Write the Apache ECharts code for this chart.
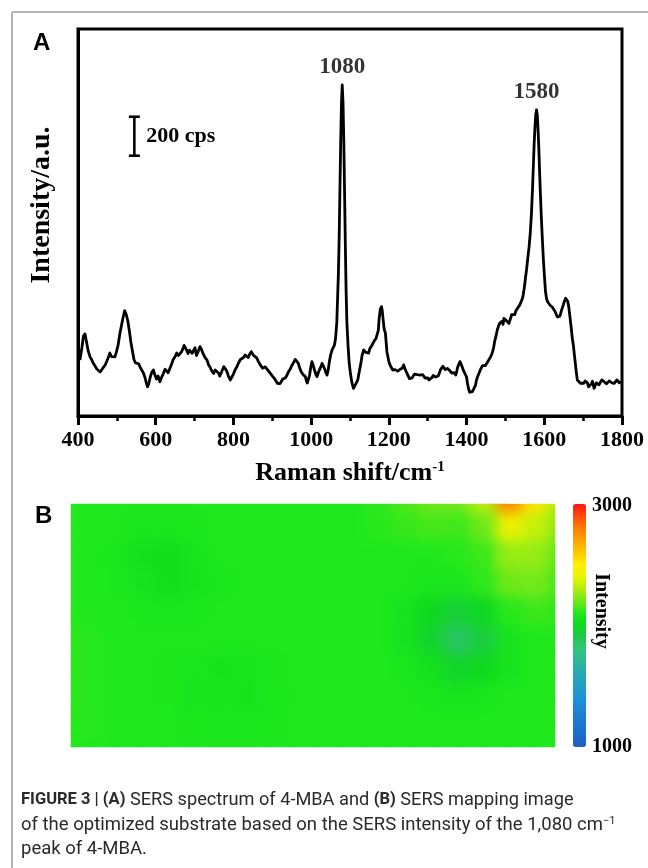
<!DOCTYPE html>
<html>
<head>
<meta charset="utf-8">
<script src="https://cdn.jsdelivr.net/npm/echarts/dist/echarts.min.js"></script>
<style>
  html, body { margin: 0; padding: 0; background: #fff; }
  #chart { position: absolute; left: 0; top: 0; width: 648px; height: 868px; }
  #mapClip { position: absolute; left: 71px; top: 504px; width: 484px; height: 243px; overflow: hidden; }
  #mapSmooth { position: absolute; left: -20px; top: -20px; width: 524px; height: 283px; filter: blur(7px); }
</style>
</head>
<body>
<div id="chart"></div>
<div id="mapClip"><div id="mapSmooth"></div></div>
<script>
// ---- Panel A: SERS spectrum of 4-MBA (Raman shift in cm-1, intensity in cps) ----
const ramanShift = [
  405, 410, 414, 418, 422, 426, 431, 435, 439, 444,
  449, 453, 457, 462, 466, 470, 474, 478, 482, 486,
  490, 495, 499, 503, 508, 512, 516, 520, 524, 528,
  532, 536, 540, 544, 548, 552, 556, 560, 564, 568,
  572, 576, 579, 582, 586, 590, 594, 598, 602, 606,
  611, 615, 619, 624, 628, 632, 636, 640, 645, 650,
  654, 658, 662, 666, 669, 673, 676, 680, 683, 687,
  690, 694, 697, 701, 705, 709, 714, 718, 722, 727,
  732, 736, 740, 744, 749, 753, 757, 761, 765, 770,
  775, 779, 783, 787, 792, 796, 800, 805, 809, 813,
  818, 822, 826, 830, 834, 838, 842, 846, 851, 856,
  860, 864, 868, 871, 875, 878, 882, 886, 890, 895,
  899, 903, 907, 910, 913, 916, 920, 923, 927, 930,
  934, 938, 942, 946, 950, 955, 959, 963, 967, 970,
  974, 978, 982, 985, 988, 990, 993, 996, 999, 1002,
  1005, 1008, 1012, 1015, 1018, 1021, 1025, 1028, 1031, 1034,
  1038, 1041, 1044, 1047, 1050, 1054, 1057, 1060, 1063, 1066,
  1068, 1070, 1072, 1074, 1076, 1078, 1080, 1082, 1084, 1086,
  1088, 1090, 1092, 1095, 1098, 1101, 1105, 1109, 1113, 1117,
  1120, 1124, 1128, 1131, 1135, 1138, 1141, 1145, 1148, 1151,
  1154, 1158, 1161, 1164, 1167, 1170, 1173, 1175, 1178, 1181,
  1183, 1185, 1188, 1191, 1193, 1195, 1198, 1200, 1203, 1206,
  1210, 1213, 1216, 1220, 1223, 1226, 1229, 1232, 1235, 1238,
  1241, 1244, 1247, 1250, 1253, 1256, 1260, 1263, 1266, 1270,
  1273, 1277, 1280, 1284, 1287, 1290, 1293, 1296, 1300, 1303,
  1306, 1310, 1314, 1317, 1320, 1324, 1327, 1330, 1333, 1336,
  1339, 1342, 1345, 1348, 1351, 1354, 1357, 1359, 1362, 1365,
  1368, 1372, 1375, 1377, 1380, 1383, 1386, 1389, 1391, 1394,
  1397, 1400, 1402, 1405, 1408, 1410, 1413, 1415, 1418, 1420,
  1423, 1425, 1428, 1432, 1435, 1438, 1441, 1445, 1448, 1452,
  1455, 1458, 1462, 1465, 1467, 1470, 1472, 1476, 1479, 1482,
  1485, 1488, 1491, 1494, 1496, 1499, 1502, 1505, 1509, 1512,
  1514, 1516, 1518, 1521, 1524, 1527, 1531, 1534, 1537, 1540,
  1544, 1546, 1548, 1550, 1552, 1554, 1556, 1558, 1561, 1564,
  1567, 1570, 1572, 1574, 1576, 1578, 1580, 1582, 1584, 1586,
  1588, 1590, 1592, 1594, 1596, 1598, 1601, 1603, 1606, 1609,
  1612, 1615, 1618, 1621, 1625, 1628, 1631, 1634, 1638, 1640,
  1642, 1644, 1646, 1649, 1652, 1655, 1658, 1660, 1663, 1666,
  1668, 1670, 1672, 1675, 1677, 1679, 1681, 1683, 1685, 1688,
  1690, 1693, 1695, 1698, 1702, 1705, 1708, 1711, 1714, 1717,
  1721, 1724, 1728, 1731, 1734, 1737, 1741, 1744, 1748, 1751,
  1754, 1757, 1760, 1764, 1767, 1771, 1774, 1777, 1780, 1784,
  1787, 1790, 1793, 1796, 1798
];
const intensity = [
  287, 350, 410, 421, 380, 335, 303, 290, 272, 265,
  240, 232, 226, 240, 248, 262, 272, 300, 323, 305,
  298, 303, 330, 362, 426, 465, 505, 540, 522, 490,
  440, 380, 335, 290, 272, 262, 268, 250, 246, 222,
  200, 168, 150, 165, 200, 225, 236, 210, 190, 205,
  176, 198, 215, 240, 236, 222, 228, 262, 290, 305,
  323, 310, 300, 328, 340, 362, 354, 336, 320, 338,
  345, 322, 330, 350, 310, 330, 356, 340, 320, 300,
  287, 262, 250, 232, 219, 236, 240, 222, 205, 228,
  253, 242, 230, 205, 185, 200, 215, 240, 253, 272,
  290, 296, 300, 313, 305, 300, 318, 330, 312, 322,
  298, 280, 266, 260, 245, 236, 252, 250, 232, 219,
  208, 200, 188, 180, 168, 159, 166, 175, 190, 200,
  196, 210, 228, 240, 258, 275, 290, 296, 270, 250,
  228, 215, 210, 202, 180, 169, 188, 210, 250, 279,
  262, 240, 215, 202, 220, 235, 252, 270, 258, 245,
  222, 210, 238, 280, 312, 339, 352, 364, 400, 480,
  600, 720, 900, 1150, 1400, 1600, 1698, 1610, 1420, 1150,
  880, 640, 480, 360, 270, 220, 170, 142, 150, 172,
  185, 230, 270, 310, 339, 335, 326, 318, 323, 345,
  352, 368, 381, 390, 398, 407, 440, 500, 548, 561,
  540, 500, 445, 426, 380, 330, 300, 279, 262, 250,
  236, 227, 238, 240, 230, 225, 240, 250, 246, 262,
  245, 230, 220, 205, 192, 185, 196, 200, 215, 225,
  212, 219, 210, 200, 212, 205, 195, 190, 196, 185,
  193, 195, 208, 205, 200, 193, 205, 220, 238, 245,
  255, 253, 238, 230, 244, 240, 232, 227, 220, 215,
  222, 210, 232, 250, 266, 279, 265, 250, 238, 225,
  215, 200, 172, 140, 122, 116, 128, 125, 130, 133,
  158, 180, 200, 219, 235, 245, 258, 262, 258, 265,
  280, 290, 304, 318, 330, 355, 380, 412, 441, 460,
  475, 480, 485, 470, 501, 498, 490, 482, 475, 494,
  505, 520, 527, 518, 520, 540, 552, 560, 570, 585,
  604, 625, 650, 680, 715, 745, 780, 817, 870, 940,
  1040, 1180, 1290, 1400, 1480, 1545, 1570, 1545, 1470, 1370,
  1250, 1140, 1040, 950, 869, 790, 700, 640, 600, 585,
  578, 568, 560, 558, 552, 535, 520, 508, 501, 512,
  525, 540, 552, 570, 590, 604, 604, 590, 560, 510,
  475, 440, 400, 360, 322, 285, 250, 215, 185, 178,
  175, 168, 160, 175, 168, 180, 190, 170, 150, 158,
  165, 178, 142, 155, 170, 165, 160, 172, 185, 180,
  176, 168, 165, 175, 180, 172, 170, 162, 168, 178,
  185, 175, 170, 180, 176
];
const shiftTicks = [400, 1800, 200];      // min, max, step of the Raman shift axis
const intensityAxis = [0, 1985];          // plotted intensity window (cps)
const peakShifts = [1080, 1580];          // annotated bands
const scaleBarCps = 200;                  // height of the intensity scale bar

// ---- Panel B: SERS mapping of the 1,080 cm-1 band intensity (rows top -> bottom) ----
const mapRows = [
  [2110,2100,2100,2100,2100,2100,2100,2100,2100,2100,2100,2100,2120,2160,2200,2210,2320,2800,2520,2300],
  [2110,2100,2100,2080,2080,2095,2100,2100,2100,2100,2100,2100,2110,2130,2150,2140,2200,2420,2340,2240],
  [2110,2100,2090,2050,2040,2070,2100,2100,2100,2100,2100,2100,2100,2100,2100,2110,2140,2260,2260,2180],
  [2110,2100,2095,2060,2045,2065,2090,2100,2100,2100,2100,2100,2100,2100,2080,2080,2120,2200,2210,2150],
  [2110,2100,2100,2090,2080,2090,2100,2100,2100,2100,2100,2100,2100,2070,2000,1950,1995,2110,2140,2120],
  [2120,2110,2100,2100,2100,2100,2100,2100,2100,2100,2100,2100,2100,2060,1970,1860,1930,2070,2100,2100],
  [2120,2110,2100,2100,2095,2080,2060,2070,2095,2100,2100,2100,2100,2090,2050,1975,2005,2070,2100,2100],
  [2120,2110,2100,2100,2095,2070,2075,2060,2085,2100,2100,2100,2100,2100,2090,2070,2080,2100,2100,2100],
  [2110,2110,2100,2100,2100,2090,2080,2080,2095,2100,2100,2100,2100,2100,2100,2100,2100,2100,2100,2100],
  [2110,2100,2100,2100,2100,2100,2100,2100,2100,2100,2100,2100,2100,2100,2100,2100,2100,2100,2100,2100]
];
const mapRange = [1000, 3000];
const mapColors = [
  '#1c5ec6', '#1c6bcc', '#1d78d2', '#1e85d6', '#1e92d8', '#229dc6', '#26a8b4',
  '#2db698', '#34c47c', '#20c850', '#0ed81e', '#1ee81c', '#6fe81a', '#b0ee10',
  '#e8f400', '#fff000', '#ffc800', '#ffa400', '#ff8000', '#ff4a0a', '#ff1414'
];

// ---- derived series data ----
const spectrum = ramanShift.map((s, i) => [s, intensity[i]]);
const peaks = peakShifts.map(p => [p, intensity[ramanShift.indexOf(p)]]);
const scaleBar = [[545, 1335, 1335 + scaleBarCps]];
const mapCells = [];
mapRows.forEach((row, r) => row.forEach((v, c) => mapCells.push([c, r, v])));
const mapCols = mapRows[0].map((_, i) => i);
const mapRowIds = mapRows.map((_, i) => i);

const SERIF = "'Liberation Serif','Times New Roman',serif";
const SANS = "'Liberation Sans',Arial,sans-serif";
const CAPTION = "Roboto,'Liberation Sans',Arial,sans-serif";

const chart = echarts.init(document.getElementById('chart'), null, { renderer: 'canvas' });

chart.setOption({
  animation: false,
  backgroundColor: '#fff',
  grid: [
    { left: 78, top: 29, width: 544, height: 387, show: true, borderColor: '#000', borderWidth: 3, backgroundColor: 'transparent' },
    { left: 71, top: 504, width: 484, height: 243 }
  ],
  xAxis: [
    {
      gridIndex: 0, type: 'value', min: shiftTicks[0], max: shiftTicks[1], interval: shiftTicks[2],
      axisLine: { lineStyle: { color: '#000', width: 3 } },
      axisTick: { inside: false, length: 9, lineStyle: { color: '#000', width: 3 } },
      minorTick: { show: true, splitNumber: 2, length: 5, lineStyle: { color: '#000', width: 2.5 } },
      splitLine: { show: false },
      axisLabel: { color: '#000', fontFamily: SERIF, fontWeight: 'bold', fontSize: 22, margin: 13,
                   formatter: v => String(v) },
      name: '{m|Raman shift/cm}{s|-1}',
      nameLocation: 'middle',
      nameGap: 44,
      nameTextStyle: {
        rich: {
          m: { fontFamily: SERIF, fontWeight: 'bold', fontSize: 26, color: '#000' },
          s: { fontFamily: SERIF, fontWeight: 'bold', fontSize: 15, color: '#000', verticalAlign: 'top' }
        }
      }
    },
    { gridIndex: 1, type: 'category', data: mapCols, show: false }
  ],
  yAxis: [
    {
      gridIndex: 0, type: 'value', min: intensityAxis[0], max: intensityAxis[1],
      axisLine: { show: true, lineStyle: { color: '#000', width: 3 } },
      axisTick: { show: false }, axisLabel: { show: false }, splitLine: { show: false }
    },
    { gridIndex: 1, type: 'category', data: mapRowIds, inverse: true, show: false }
  ],
  visualMap: {
    type: 'continuous', min: mapRange[0], max: mapRange[1], seriesIndex: 3,
    left: 573, top: 504, itemWidth: 13, itemHeight: 243, padding: 0,
    calculable: false, hoverLink: false, showLabel: false, text: null,
    inRange: { color: mapColors }
  },
  series: [
    {
      type: 'line', xAxisIndex: 0, yAxisIndex: 0, data: spectrum,
      showSymbol: false, symbol: 'none', silent: true,
      lineStyle: { color: '#000', width: 2.8, join: 'round' }
    },
    {
      type: 'scatter', xAxisIndex: 0, yAxisIndex: 0, data: peaks, symbolSize: 0, silent: true,
      label: {
        show: true, position: 'top', distance: 6,
        formatter: p => String(p.value[0]),
        fontFamily: SERIF, fontWeight: 'bold', fontSize: 23, color: '#000'
      }
    },
    {
      type: 'custom', xAxisIndex: 0, yAxisIndex: 0, data: scaleBar, silent: true,
      renderItem: function (params, api) {
        const lo = api.coord([api.value(0), api.value(1)]);
        const hi = api.coord([api.value(0), api.value(2)]);
        const ln = { stroke: '#000', lineWidth: 2.6 };
        return {
          type: 'group',
          children: [
            { type: 'line', shape: { x1: lo[0], y1: lo[1], x2: hi[0], y2: hi[1] }, style: ln },
            { type: 'line', shape: { x1: hi[0] - 5.5, y1: hi[1], x2: hi[0] + 5.5, y2: hi[1] }, style: ln },
            { type: 'line', shape: { x1: lo[0] - 5.5, y1: lo[1], x2: lo[0] + 5.5, y2: lo[1] }, style: ln },
            {
              type: 'text',
              style: {
                text: (api.value(2) - api.value(1)) + ' cps', x: hi[0] + 12, y: (lo[1] + hi[1]) / 2,
                verticalAlign: 'middle', align: 'left',
                fontFamily: SERIF, fontWeight: 'bold', fontSize: 22, fill: '#000'
              }
            }
          ]
        };
      }
    },
    {
      type: 'heatmap', xAxisIndex: 1, yAxisIndex: 1, data: mapCells, silent: true,
      itemStyle: { borderWidth: 0 }
    }
  ],
  graphic: [
    // page frame
    { type: 'line', shape: { x1: 12, y1: 12, x2: 648, y2: 12 }, style: { stroke: '#b4b4b4', lineWidth: 2 } },
    { type: 'line', shape: { x1: 12, y1: 12, x2: 12, y2: 868 }, style: { stroke: '#b4b4b4', lineWidth: 2 } },
    // panel letters
    { type: 'text', x: 33, y: 43, style: { text: 'A', fontFamily: SANS, fontWeight: 'bold', fontSize: 24, fill: '#000', verticalAlign: 'middle' } },
    { type: 'text', x: 35, y: 516, style: { text: 'B', fontFamily: SANS, fontWeight: 'bold', fontSize: 24, fill: '#000', verticalAlign: 'middle' } },
    // y axis title of panel A
    { type: 'text', x: 42, y: 205, rotation: Math.PI / 2,
      style: { text: 'Intensity/a.u.', fontFamily: SERIF, fontWeight: 'bold', fontSize: 28, fill: '#000', align: 'center', verticalAlign: 'middle' } },
    // colour bar labels
    { type: 'text', x: 592, y: 506, style: { text: String(mapRange[1]), fontFamily: SERIF, fontWeight: 'bold', fontSize: 20, fill: '#000', verticalAlign: 'middle' } },
    { type: 'text', x: 592, y: 747, style: { text: String(mapRange[0]), fontFamily: SERIF, fontWeight: 'bold', fontSize: 20, fill: '#000', verticalAlign: 'middle' } },
    { type: 'text', x: 601, y: 611, rotation: -Math.PI / 2,
      style: { text: 'Intensity', fontFamily: SERIF, fontWeight: 'bold', fontSize: 20, fill: '#000', align: 'center', verticalAlign: 'middle' } },
    // figure caption
    { type: 'text', x: 21, y: 800, style: {
        text: '{b|FIGURE 3 | (A)} SERS spectrum of 4-MBA and {b|(B)} SERS mapping image',
        fontFamily: CAPTION, fontSize: 18.2, fill: '#2a2a2a', verticalAlign: 'middle',
        rich: { b: { fontFamily: CAPTION, fontSize: 16.5, fontWeight: 'bold', fill: '#2a2a2a' } } } },
    { type: 'text', x: 21, y: 825, style: {
        text: 'of the optimized substrate based on the SERS intensity of the 1,080 cm{s|\u22121}',
        fontFamily: CAPTION, fontSize: 18.5, fill: '#2a2a2a', verticalAlign: 'middle',
        rich: { s: { fontFamily: CAPTION, fontSize: 11, fill: '#2a2a2a', verticalAlign: 'top' } } } },
    { type: 'text', x: 21, y: 849, style: {
        text: 'peak of 4-MBA.', fontFamily: CAPTION, fontSize: 18.5, fill: '#2a2a2a', verticalAlign: 'middle' } }
  ]
});

// Smooth rendering of the intensity map (same cells, softened by the container's blur)
const smooth = echarts.init(document.getElementById('mapSmooth'), null, { renderer: 'canvas' });
smooth.setOption({
  animation: false,
  grid: { left: 0, right: 0, top: 0, bottom: 0 },
  xAxis: { type: 'category', data: mapCols, show: false },
  yAxis: { type: 'category', data: mapRowIds, inverse: true, show: false },
  visualMap: { show: false, type: 'continuous', min: mapRange[0], max: mapRange[1], inRange: { color: mapColors } },
  series: [{ type: 'heatmap', data: mapCells, silent: true, itemStyle: { borderWidth: 0 } }]
});
</script>
</body>
</html>
